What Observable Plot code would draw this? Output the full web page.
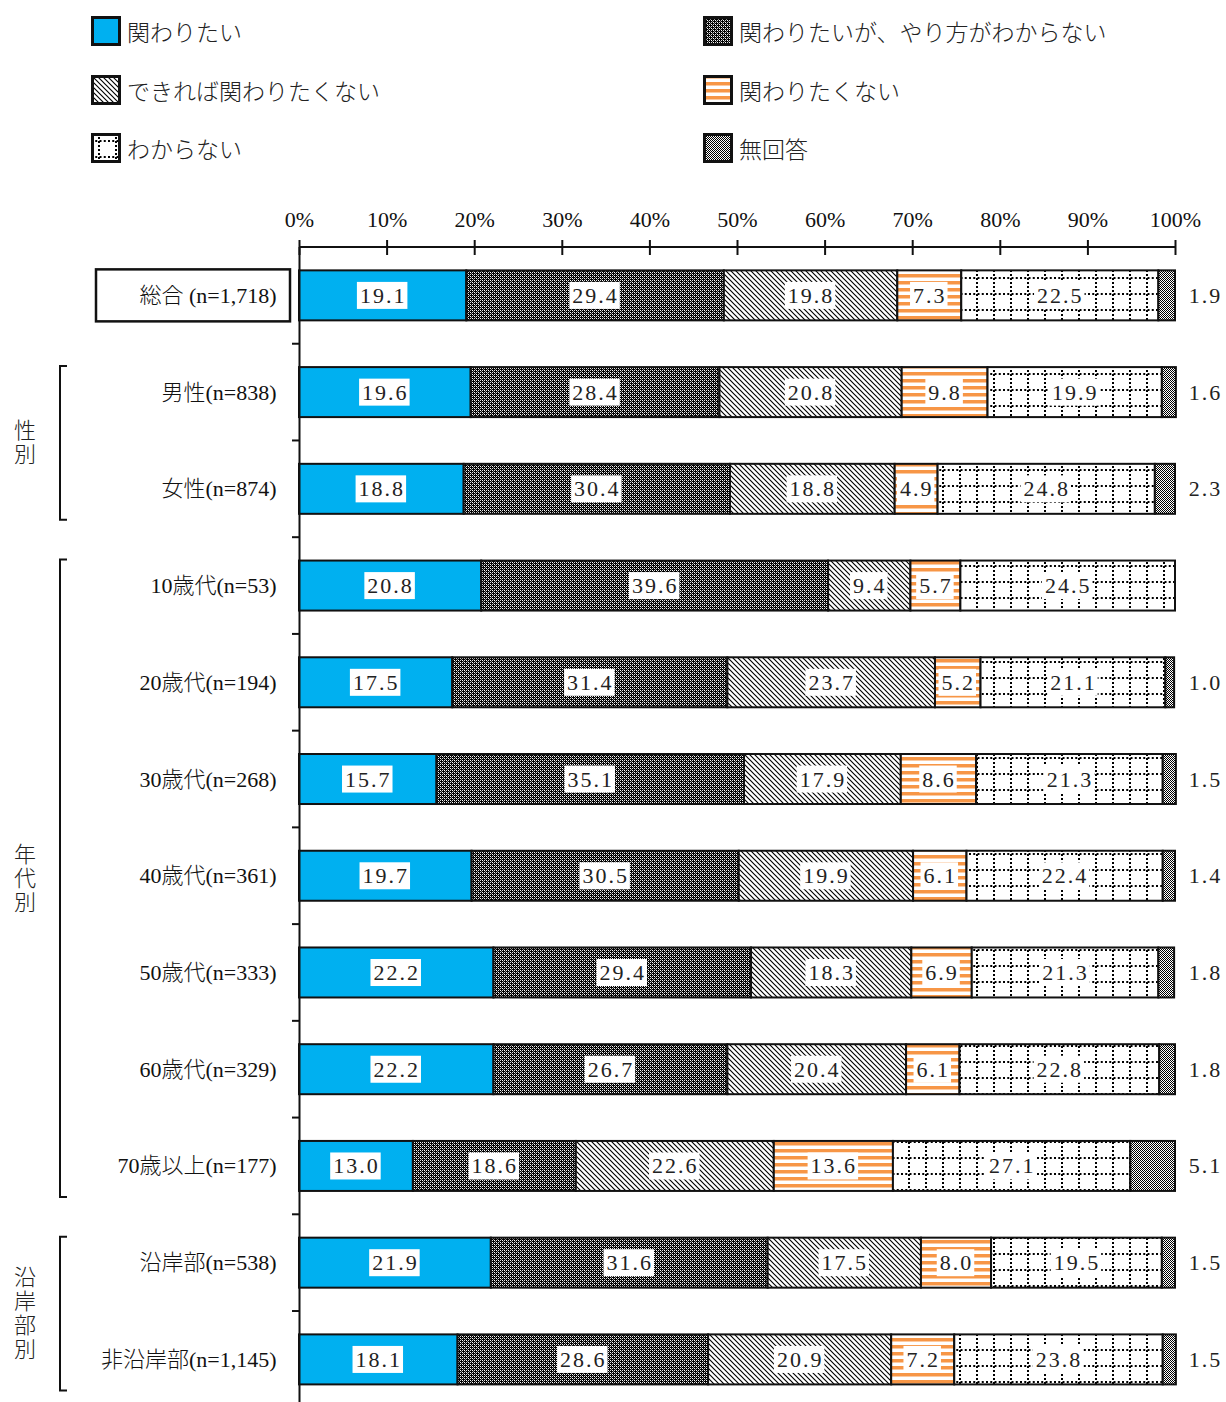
<!DOCTYPE html>
<html><head><meta charset="utf-8">
<script src="https://cdn.jsdelivr.net/npm/d3@7"></script>
<script src="https://cdn.jsdelivr.net/npm/@observablehq/plot@0.6"></script>
<style>
body{margin:0;background:#fff;font-family:"Liberation Serif","Noto Sans CJK JP",serif;color:#111;}
#legend{position:relative;height:190px;width:1226px;}
.li{position:absolute;display:flex;align-items:center;font-size:23px;color:#222;height:30px;}
.li svg{margin-right:6px;flex:none;}
.li span{font-family:"Noto Sans CJK JP",sans-serif;font-weight:300;}
</style></head><body>
<svg width="0" height="0" style="position:absolute"><defs>
<pattern id="p-dark" width="4" height="4" patternUnits="userSpaceOnUse">
  <rect width="4" height="4" fill="#000"/>
  <rect x="0" y="0" width="1" height="1" fill="#fff"/>
  <rect x="2" y="2" width="1" height="1" fill="#fff"/>
  <rect x="2" y="0" width="1" height="1" fill="#ddd"/>
  <rect x="0" y="2" width="1" height="1" fill="#ddd"/>
  <rect x="1" y="1" width="1" height="1" fill="#888"/>
  <rect x="3" y="3" width="1" height="1" fill="#888"/>
</pattern>
<pattern id="p-diag" width="5" height="5" patternUnits="userSpaceOnUse">
  <rect width="5" height="5" fill="#fff"/>
  <path d="M0,0L5,5M-1,4L1,6M4,-1L6,1" stroke="#000" stroke-width="1.15"/>
</pattern>
<pattern id="p-orange" width="7" height="7" patternUnits="userSpaceOnUse">
  <rect width="7" height="7" fill="#fff"/>
  <rect y="0" width="7" height="3.5" fill="#f79646"/>
</pattern>
<pattern id="p-grid" width="17" height="16" patternUnits="userSpaceOnUse">
  <rect width="17" height="16" fill="#fff"/>
  <path d="M8,0V16" stroke="#000" stroke-width="2" stroke-dasharray="2,2"/>
  <path d="M0,8H17" stroke="#000" stroke-width="2" stroke-dasharray="2,2.25"/>
</pattern>
<pattern id="p-na" width="2" height="2" patternUnits="userSpaceOnUse">
  <rect width="2" height="2" fill="#fff"/>
  <rect width="1" height="1" fill="#000"/><rect x="1" y="1" width="1" height="1" fill="#000"/>
</pattern>
</defs></svg>
<div id="legend"></div>
<div id="chart"></div>
<script>
// ---- data ----
const categories = ["総合 (n=1,718)","男性(n=838)","女性(n=874)","10歳代(n=53)","20歳代(n=194)","30歳代(n=268)","40歳代(n=361)","50歳代(n=333)","60歳代(n=329)","70歳以上(n=177)","沿岸部(n=538)","非沿岸部(n=1,145)"];
const series = ["関わりたい","関わりたいが、やり方がわからない","できれば関わりたくない","関わりたくない","わからない","無回答"];
const kakawaritai       = [19.1,19.6,18.8,20.8,17.5,15.7,19.7,22.2,22.2,13.0,21.9,18.1];
const yarikataWakaranai = [29.4,28.4,30.4,39.6,31.4,35.1,30.5,29.4,26.7,18.6,31.6,28.6];
const dekirebaKakawaritakunai = [19.8,20.8,18.8,9.4,23.7,17.9,19.9,18.3,20.4,22.6,17.5,20.9];
const kakawaritakunai   = [7.3,9.8,4.9,5.7,5.2,8.6,6.1,6.9,6.1,13.6,8.0,7.2];
const wakaranai         = [22.5,19.9,24.8,24.5,21.1,21.3,22.4,21.3,22.8,27.1,19.5,23.8];
const mukaitou          = [1.9,1.6,2.3,0,1.0,1.5,1.4,1.8,1.8,5.1,1.5,1.5];
const xTicks = [0,10,20,30,40,50,60,70,80,90,100];
const groupLabels = ["性別","年代別","沿岸部別"];
const groupFirst = ["男性(n=838)","10歳代(n=53)","沿岸部(n=538)"];
const groupLast  = ["女性(n=874)","70歳以上(n=177)","非沿岸部(n=1,145)"];

// ---- styles ----
const seriesFills = ["#00b0f0","url(#p-dark)","url(#p-diag)","url(#p-orange)","url(#p-grid)","url(#p-na)"];

const valueArrays = [kakawaritai, yarikataWakaranai, dekirebaKakawaritakunai, kakawaritakunai, wakaranai, mukaitou];
const data = [];
categories.forEach((c, i) => series.forEach((s, j) => {
  if (valueArrays[j][i] > 0) data.push({cat: c, series: s, value: valueArrays[j][i]});
}));

// ---- legend ----
const legend = document.getElementById("legend");
series.forEach((s, j) => {
  const col = j % 2, row = Math.floor(j / 2);
  const div = document.createElement("div");
  div.className = "li";
  div.style.left = (col === 0 ? 91 : 703) + "px";
  div.style.top = (16 + row * 58.5) + "px";
  div.innerHTML = `<svg width="30" height="30"><rect x="1.5" y="1.5" width="27" height="27" fill="${seriesFills[j]}" stroke="#111" stroke-width="3"/></svg><span>${s}</span>`;
  legend.append(div);
});

// ---- chart ----
const step = 96.73, barH = 50, top0 = 57;
const inset = (step - barH) / 2;
const chart = Plot.plot({
  width: 1226, height: 1212,
  marginLeft: 299, marginRight: 51, marginTop: top0, marginBottom: 0,
  style: {fontFamily: "'Liberation Serif','Noto Sans CJK JP',serif", fontSize: "22px", color: "#111", background: "#fff"},
  x: {domain: [0, 100], label: null},
  y: {domain: categories, range: [top0, top0 + categories.length * step], padding: 0, round: false, label: null},
  color: {domain: series, range: seriesFills, type: "ordinal"},
  marks: [
    Plot.barX(data, Plot.stackX({x: "value", y: "cat", z: "series", fill: "series", stroke: "#111", strokeWidth: 2, insetTop: inset, insetBottom: inset})),
    Plot.text(data, Plot.stackX({x: "value", y: "cat", z: "series", text: d => d.series === "無回答" ? "" : d.value.toFixed(1), fontSize: 22, fill: "#222"})),
    Plot.text(data.filter(d => d.series === "無回答"), {x: () => 100, y: "cat", text: d => d.value.toFixed(1), dx: 30, fontSize: 22, fill: "#222"}),
    Plot.ruleX([0], {stroke: "#111", strokeWidth: 2}),
    Plot.axisX({anchor: "top", ticks: xTicks, tickSize: 0, tickPadding: 21, tickFormat: d => d + "%", fontSize: 22, label: null}),
    Plot.axisX({anchor: "top", ticks: xTicks, tickSize: 15, dy: 7, tickFormat: () => "", strokeWidth: 2, label: null}),
    Plot.axisY({tickSize: 0, tickPadding: 23, fontSize: 22, fontWeight: 300, label: null})
  ]
});
document.getElementById("chart").append(chart);

const svg = d3.select(chart);
const xs = chart.scale("x"), ys = chart.scale("y");
const bandStart = c => ys.apply(c);
const stepPx = bandStart(categories[1]) - bandStart(categories[0]);

// white boxes behind the in-bar labels
const textGroups = svg.selectAll('g[aria-label="text"]').nodes();
d3.select(textGroups[0]).selectAll("text").each(function() {
  if (!this.textContent) return;
  this.setAttribute("letter-spacing", "2");
  const b = this.getBBox();
  d3.select(this.parentNode).insert("rect", () => this)
    .attr("transform", this.getAttribute("transform"))
    .attr("x", b.x - 3).attr("y", b.y - 1).attr("width", b.width + 4).attr("height", b.height + 2)
    .attr("fill", "#fff").attr("stroke", "none");
});
d3.select(textGroups[1]).selectAll("text").attr("letter-spacing", "2");

const deco = svg.append("g").attr("stroke", "#111").attr("fill", "none");
// top axis line
deco.append("line").attr("x1", xs.apply(0)).attr("x2", xs.apply(100))
  .attr("y1", bandStart(categories[0])).attr("y2", bandStart(categories[0])).attr("stroke-width", 2);
// boundary ticks on the y axis
categories.slice(1).forEach(c => {
  deco.append("line").attr("x1", xs.apply(0) - 7).attr("x2", xs.apply(0))
    .attr("y1", bandStart(c)).attr("y2", bandStart(c)).attr("stroke-width", 2);
});
// box around total label
const c0 = bandStart(categories[0]) + stepPx / 2;
deco.append("rect").attr("x", 96).attr("y", c0 - 26).attr("width", 194).attr("height", 52).attr("stroke-width", 2.5);
// group brackets and vertical labels
groupLabels.forEach((g, k) => {
  const y1 = bandStart(groupFirst[k]) + inset - 1;
  const y2 = bandStart(groupLast[k]) + stepPx - inset + 6;
  deco.append("path").attr("d", `M67,${y1}H60V${y2}H67`).attr("stroke-width", 2);
  svg.append("text").attr("fill", "#222").attr("font-size", 22)
    .attr("font-family", "'Noto Sans CJK JP',sans-serif").attr("font-weight", 300)
    .attr("writing-mode", "vertical-rl").attr("text-anchor", "middle").attr("letter-spacing", 2)
    .attr("x", 25).attr("y", (y1 + y2) / 2).text(g);
});
</script>
</body></html>
